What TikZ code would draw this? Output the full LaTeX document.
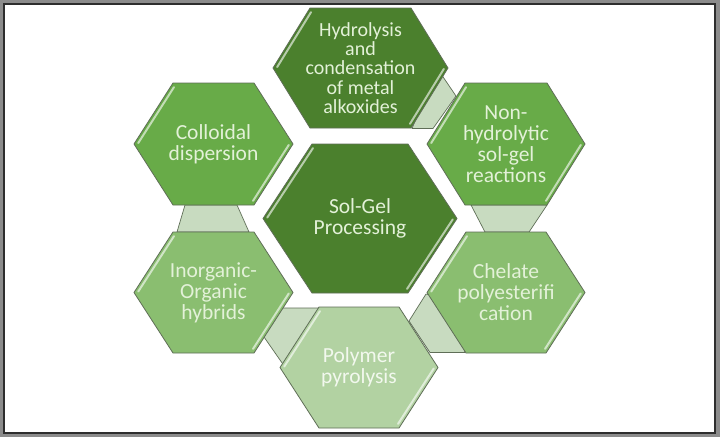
\documentclass[tikz,border=0pt]{standalone}
\usepackage{fontspec}
\setmainfont{Carlito}
\definecolor{framegray}{HTML}{8C8C8C}
\definecolor{framedark}{HTML}{2E2E2E}
\definecolor{darkg}{HTML}{4B802D}
\definecolor{midg}{HTML}{68AB48}
\definecolor{lightg}{HTML}{8ABE70}
\definecolor{paleg}{HTML}{B2D2A2}
\definecolor{connc}{HTML}{C8DBC0}
\definecolor{edgec}{HTML}{5F6E57}
\definecolor{txtc}{HTML}{E3F1D8}
\definecolor{txtpale}{HTML}{F2F8EE}
\tikzset{
  hexline/.style={draw=edgec, line width=0.8pt, line join=round},
  connshape/.style={fill=connc, draw=edgec, line width=0.7pt, line join=round},
  bevel/.style={line width=2pt, line cap=round},
  hextext/.style={align=center, inner sep=0pt, text=txtc, font=\fontsize{21.5}{21}\selectfont},
  smalltext/.style={font=\fontsize{20}{19.3}\selectfont},
}
% name, cx, cy, half width, half height, slant, fill, node options, text
\newcommand{\hexcell}[9]{%
  \filldraw[hexline, fill=#7] (#2-#4,#3) -- (#2-#4+#6,#3-#5) -- (#2+#4-#6,#3-#5) -- (#2+#4,#3) -- (#2+#4-#6,#3+#5) -- (#2-#4+#6,#3+#5) -- cycle;
  \draw[bevel, draw=#7!40!white, shift={(2.6,1.6)}, shorten <=3pt, shorten >=3pt] (#2-#4,#3) -- (#2-#4+#6,#3-#5);
  \draw[bevel, draw=#7!40!white, shift={(-2.6,-1.6)}, shorten <=3pt, shorten >=3pt] (#2+#4,#3) -- (#2+#4-#6,#3+#5);
  \node[hextext, #8] (#1) at (#2,#3) {#9};
}
\begin{document}
\begin{tikzpicture}[x=1pt, y=-1pt]
\useasboundingbox (0,0) rectangle (720,437);
% frame
\fill[framegray] (0,0) rectangle (720,437);
\fill[framedark] (3,3) rectangle (715.5,433.5);
\fill[white] (5,5) rectangle (713.5,431.5);
% connectors (behind the hexagons)
\filldraw[connshape] (437,68) -- (456,96) -- (433,128.5) -- (412,128.5) -- cycle;
\filldraw[connshape] (471,205) -- (547,205) -- (529,232) -- (485,232) -- cycle;
\filldraw[connshape] (426,294) -- (409,321) -- (430,352.5) -- (465,352.5) -- (450,300) -- cycle;
\filldraw[connshape] (270,308) -- (322,308) -- (287,370) -- (264,337) -- cycle;
\filldraw[connshape] (185,205) -- (237,205) -- (249,232) -- (177,232) -- cycle;
% hexagons
\hexcell{hydro}{360.5}{68}{87.5}{60}{37}{darkg}{smalltext}{Hydrolysis\\and\\condensation\\of metal\\alkoxides}
\hexcell{colloid}{213.5}{144}{79.5}{61}{39}{midg}{}{Colloidal\\dispersion}
\hexcell{nonhyd}{506}{144}{79}{61}{38}{midg}{}{Non-\\hydrolytic\\sol-gel\\reactions}
\hexcell{solgel}{360}{218.5}{97}{74.5}{49}{darkg}{}{Sol-Gel\\Processing}
\hexcell{inorg}{213.5}{292.5}{79.5}{60.5}{39}{lightg}{}{Inorganic-\\Organic\\hybrids}
\hexcell{chelate}{506}{292.5}{79}{60.5}{39}{lightg}{}{Chelate\\polyesterifi\\cation}
\hexcell{polymer}{359}{367.5}{79}{60.5}{39}{paleg}{text=txtpale}{Polymer\\pyrolysis}
\end{tikzpicture}
\end{document}
